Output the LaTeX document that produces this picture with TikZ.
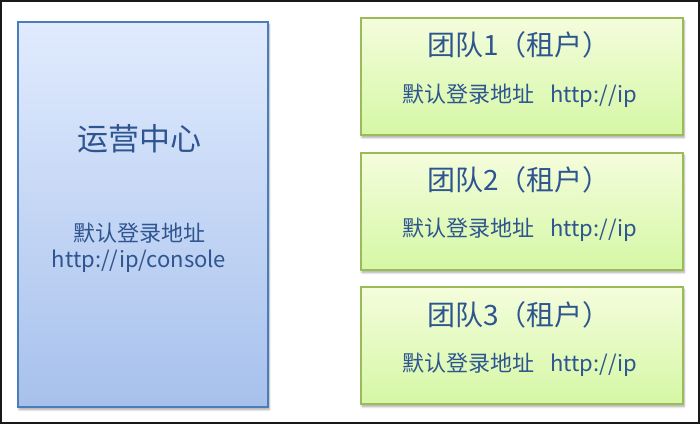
\documentclass[tikz,border=0pt]{standalone}
\usepackage{fontspec}
\setmainfont{Noto Sans CJK SC}
\usetikzlibrary{shadows.blur}
\definecolor{bluetop}{HTML}{E1EBFE}
\definecolor{bluebot}{HTML}{A7C1EC}
\definecolor{blueline}{HTML}{4A7EBB}
\definecolor{greentop}{HTML}{F4FDDC}
\definecolor{greenbot}{HTML}{D5F7A5}
\definecolor{greenline}{HTML}{9BBB59}
\definecolor{txt}{HTML}{2E5590}
\tikzset{
  bluebox/.style={draw=blueline, line width=1.2pt, shading=axis, top color=bluetop, bottom color=bluebot,
    blur shadow={shadow xshift=1pt, shadow yshift=-2.5pt, shadow blur steps=6, shadow opacity=35},
    minimum width=250pt, minimum height=385pt, inner sep=0pt},
  greenbox/.style={draw=greenline, line width=1.2pt, shading=axis, top color=greentop, bottom color=greenbot,
    blur shadow={shadow xshift=1pt, shadow yshift=-2.5pt, shadow blur steps=6, shadow opacity=35},
    minimum width=322pt, minimum height=117pt, inner sep=0pt},
  bigtxt/.style={text=txt, font=\fontsize{31pt}{33pt}\selectfont, inner sep=0pt},
  titletxt/.style={text=txt, font=\fontsize{28pt}{30pt}\selectfont, inner sep=0pt},
  subtxt/.style={text=txt, font=\fontsize{22pt}{26pt}\selectfont, inner sep=0pt, align=center},
}
\begin{document}
\begin{tikzpicture}[x=1pt,y=-1pt]
\useasboundingbox (0,0) rectangle (700,424);
\draw[line width=1.6pt, black!90] (0.8,0.8) rectangle (699.2,423.2);
\node[bluebox] (center) at (143,214.5) {};
\node[greenbox] (team1) at (522,76.5) {};
\node[greenbox] (team2) at (522,211.5) {};
\node[greenbox] (team3) at (522,345.5) {};
\node[bigtxt] (ctitle) at (139,139) {运营中心};
\node[subtxt] (csub) at (139,248) {默认登录地址\\[0pt]http://ip/console};
\node[titletxt] (t1) at (519,45) {团队1（租户）};
\node[subtxt] (s1) at (520,96) {默认登录地址\hspace{0.7em}http://ip};
\node[titletxt] (t2) at (519,180) {团队2（租户）};
\node[subtxt] (s2) at (520,230) {默认登录地址\hspace{0.7em}http://ip};
\node[titletxt] (t3) at (519,315) {团队3（租户）};
\node[subtxt] (s3) at (520,365) {默认登录地址\hspace{0.7em}http://ip};
\end{tikzpicture}
\end{document}
